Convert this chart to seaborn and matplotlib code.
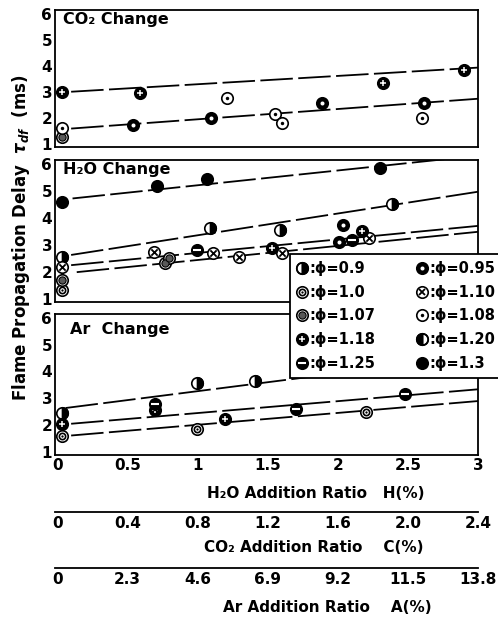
import numpy as np
import pandas as pd
import seaborn as sns
import matplotlib.pyplot as plt
from matplotlib.lines import Line2D
from matplotlib.markers import MarkerStyle

# veriler - grafikten okunan degerler
# alt eksen H2O (%) birimi; CO2 ve Ar panelleri kendi birimlerinde
CO2_PER_H2O = 0.8     # 2.4 % CO2 <-> 3 % H2O
AR_PER_H2O = 4.6      # 13.8 % Ar <-> 3 % H2O

# CO2 paneli (x: CO2 %)
co2_x = [0.03, 0.47, 1.86, 2.32, 0.43, 0.88, 1.51, 2.09, 0.03, 0.97, 1.24, 1.28, 2.08, 0.03]
co2_y = [3.0, 2.96, 3.35, 3.85, 1.73, 2.0, 2.58, 2.58, 1.6, 2.77, 2.15, 1.8, 2.0, 1.25]
co2_phi = [1.18] * 4 + [0.95] * 4 + [1.08] * 5 + [1.07]
co2_line_x = [[0.08, 2.4], [0.08, 2.4]]
co2_line_y = [[3.0, 3.93], [1.58, 2.73]]

# H2O paneli (x: H2O %)
h2o_x = [0.035, 0.71, 1.07, 2.3,
         0.035, 1.09, 1.59, 2.39,
         0.035, 0.69, 1.11, 1.3, 1.6, 2.22,
         0.035, 0.77, 0.8,
         0.035,
         1.0, 2.1,
         1.53, 2.17,
         2.04, 2.01]
h2o_y = [4.57, 5.17, 5.44, 5.85,
         2.55, 3.63, 3.56, 4.53,
         2.17, 2.73, 2.69, 2.54, 2.69, 3.25,
         1.68, 2.32, 2.5,
         1.3,
         2.8, 3.18,
         2.88, 3.52,
         3.74, 3.1]
h2o_phi = [1.3] * 4 + [0.9] * 4 + [1.10] * 6 + [1.07] * 3 + [1.0] + [1.25] * 2 + [1.18] * 2 + [0.95] * 2
h2o_line_x = [[0.11, 3.0], [0.1, 3.0], [0.1, 3.0], [0.14, 3.0]]
h2o_line_y = [[4.72, 6.31], [2.62, 4.97], [2.24, 3.7], [1.98, 3.48]]

# Ar paneli (x: Ar %)
ar_x = [0.16, 4.6, 6.49, 3.22, 7.82, 11.41, 0.16, 3.22, 5.52, 0.16, 4.6, 10.12]
ar_y = [2.44, 3.55, 3.63, 2.78, 2.6, 3.15, 2.04, 2.55, 2.22, 1.6, 1.85, 2.48]
ar_phi = [0.9] * 3 + [1.25] * 3 + [1.18] * 3 + [1.0] * 3
ar_line_x = [[0.28, 13.8], [0.46, 13.8], [0.46, 13.8]]
ar_line_y = [[2.63, 4.6], [2.04, 3.33], [1.6, 2.89]]

x_ticks = [0, 0.5, 1, 1.5, 2, 2.5, 3]
x_tick_labels = ["0", "0.5", "1", "1.5", "2", "2.5", "3"]
co2_ticks = [0, 0.4, 0.8, 1.2, 1.6, 2.0, 2.4]
co2_tick_labels = ["0", "0.4", "0.8", "1.2", "1.6", "2.0", "2.4"]
ar_ticks = [0, 2.3, 4.6, 6.9, 9.2, 11.5, 13.8]
ar_tick_labels = ["0", "2.3", "4.6", "6.9", "9.2", "11.5", "13.8"]
y_ticks = [1, 2, 3, 4, 5, 6]

# isaret stilleri (her phi icin ust uste katmanlar)
S = 68
open_c = dict(marker="o", s=S, color="white", edgecolor="black", linewidth=1.2)
solid_c = dict(marker="o", s=S, color="black", edgecolor="black", linewidth=1.2)


def dot(f, c):
    return dict(marker="o", s=S * f * f, color=c, edgecolor=c, linewidth=0)


marker_layers = {
    0.9: [open_c, dict(marker=MarkerStyle("o", fillstyle="right"), s=S, color="black", edgecolor="black", linewidth=1.2)],
    0.95: [solid_c, dot(0.35, "white")],
    1.0: [open_c, dict(marker="o", s=S * 0.3, color="white", edgecolor="black", linewidth=1.2), dot(0.2, "black")],
    1.10: [open_c, dict(marker="x", s=S * 0.3, color="black", linewidth=1.3)],
    1.07: [open_c, dict(marker="o", s=S * 0.4, color="0.35", edgecolor="black", linewidth=0.8)],
    1.08: [open_c, dot(0.3, "black")],
    1.18: [solid_c, dict(marker="+", s=S * 0.35, color="white", linewidth=1.1)],
    1.20: [open_c, dict(marker=MarkerStyle("o", fillstyle="left"), s=S, color="black", edgecolor="black", linewidth=1.2)],
    1.25: [solid_c, dict(marker="_", s=S * 0.5, color="white", linewidth=1.5)],
    1.3: [solid_c],
}
phi_names = {0.9: "0.9", 0.95: "0.95", 1.0: "1.0", 1.10: "1.10", 1.07: "1.07",
             1.08: "1.08", 1.18: "1.18", 1.20: "1.20", 1.25: "1.25", 1.3: "1.3"}

sns.set_style("white")
plt.rcParams["font.family"] = ["DejaVu Sans"]
plt.rcParams["font.weight"] = "bold"
for k in ["text.color", "axes.labelcolor", "xtick.color", "ytick.color"]:
    plt.rcParams[k] = "black"

fig = plt.figure(figsize=(4.98, 6.21), dpi=100)

left, width = 55 / 498, 423 / 498
ax1 = fig.add_axes([left, 1 - 147 / 621, width, 137 / 621])
ax2 = fig.add_axes([left, 1 - 302 / 621, width, 142 / 621])
ax3 = fig.add_axes([left, 1 - 455 / 621, width, 141 / 621])


def draw_panel(ax, xs, ys, phis, line_x, line_y, scale):
    for lx, ly in zip(line_x, line_y):
        sns.lineplot(x=np.array(lx) / scale, y=ly, ax=ax, color="black", linewidth=1.3,
                     linestyle=(0, (18, 3)), estimator=None, sort=False, zorder=2)
    df = pd.DataFrame({"x": np.array(xs) / scale, "y": ys, "phi": phis})
    for p, layers in marker_layers.items():
        sub = df[np.isclose(df["phi"], p)]
        if sub.empty:
            continue
        for layer in layers:
            sns.scatterplot(data=sub, x="x", y="y", ax=ax, legend=False, zorder=3, **layer)
    ax.set_xlim(-0.015, 3.0)
    ax.set_ylim(0.87, 6.15)
    ax.set_xticks(x_ticks)
    ax.set_yticks(y_ticks)
    ax.set_yticklabels([str(v) for v in y_ticks])
    ax.set_xlabel("")
    ax.set_ylabel("")
    ax.tick_params(direction="in", length=4, width=1.1, labelsize=11, pad=2, colors="black")
    for sp in ax.spines.values():
        sp.set_linewidth(1.3)
        sp.set_color("black")


draw_panel(ax1, co2_x, co2_y, co2_phi, co2_line_x, co2_line_y, CO2_PER_H2O)
draw_panel(ax2, h2o_x, h2o_y, h2o_phi, h2o_line_x, h2o_line_y, 1.0)
draw_panel(ax3, ar_x, ar_y, ar_phi, ar_line_x, ar_line_y, AR_PER_H2O)

ax1.set_xticklabels([])
ax2.set_xticklabels([])
ax3.set_xticklabels(x_tick_labels)

ax1.text(0.02, 0.985, "CO₂ Change", transform=ax1.transAxes, ha="left", va="top", fontsize=11.5)
ax2.text(0.02, 0.985, "H₂O Change", transform=ax2.transAxes, ha="left", va="top", fontsize=11.5)
ax3.text(0.035, 0.89, "Ar  Change", transform=ax3.transAxes, ha="left", va="center", fontsize=11.5)

# ek x eksenleri (CO2 ve Ar)
for y_px, lim, ticks, labels in [(512, CO2_PER_H2O * 3, co2_ticks, co2_tick_labels),
                                 (568, AR_PER_H2O * 3, ar_ticks, ar_tick_labels)]:
    axs = fig.add_axes([left, 1 - y_px / 621, width, 0.0001])
    axs.set_xlim(-0.015 * lim / 3, lim)
    axs.set_ylim(0, 1)
    axs.set_yticks([])
    axs.set_xticks(ticks)
    axs.set_xticklabels(labels)
    axs.tick_params(axis="x", direction="in", length=4, width=1.1, labelsize=11, pad=3, colors="black")
    for name, sp in axs.spines.items():
        sp.set_visible(name == "bottom")
    axs.spines["bottom"].set_linewidth(1.3)
    axs.spines["bottom"].set_color("black")
    axs.patch.set_alpha(0)

fig.text(0.635, 1 - 493 / 621, "H₂O Addition Ratio   H(%)", ha="center", va="center", fontsize=11)
fig.text(0.63, 1 - 547 / 621, "CO₂ Addition Ratio    C(%)", ha="center", va="center", fontsize=11)
fig.text(0.657, 1 - 607 / 621, "Ar Addition Ratio    A(%)", ha="center", va="center", fontsize=11)

fig.text(0.042, 1 - 238 / 621, r"Flame Propagation Delay  $\tau_{df}$  (ms)", rotation=90,
         ha="center", va="center", fontsize=12)


# lejant
def to_handle(layer):
    m = layer["marker"]
    fill = "full"
    if isinstance(m, MarkerStyle):
        fill = m.get_fillstyle()
        m = "o"
    ms = np.sqrt(layer["s"])
    return Line2D([], [], linestyle="none", marker=m, markersize=ms, fillstyle=fill,
                  markerfacecolor=layer["color"], markerfacecoloralt="none",
                  markeredgecolor=layer.get("edgecolor", layer["color"]),
                  markeredgewidth=max(layer.get("linewidth", 1.0), 0.01))


order = [0.9, 1.0, 1.07, 1.18, 1.25, 0.95, 1.10, 1.08, 1.20, 1.3]
handles = [tuple(to_handle(l) for l in marker_layers[p]) for p in order]
labels = [":ϕ=" + phi_names[p] for p in order]
leg = fig.legend(handles, labels, ncol=2, loc="upper left",
                 bbox_to_anchor=(290 / 498, 1 - 255 / 621, 212 / 498, 0.001), mode="expand",
                 frameon=True, fancybox=False, edgecolor="black", framealpha=1,
                 fontsize=10.5, handlelength=0.8, handletextpad=0.1, columnspacing=0.4,
                 labelspacing=0.6, borderpad=0.45, borderaxespad=0)
leg.get_frame().set_linewidth(1.3)

plt.savefig("out.png", dpi=100)
